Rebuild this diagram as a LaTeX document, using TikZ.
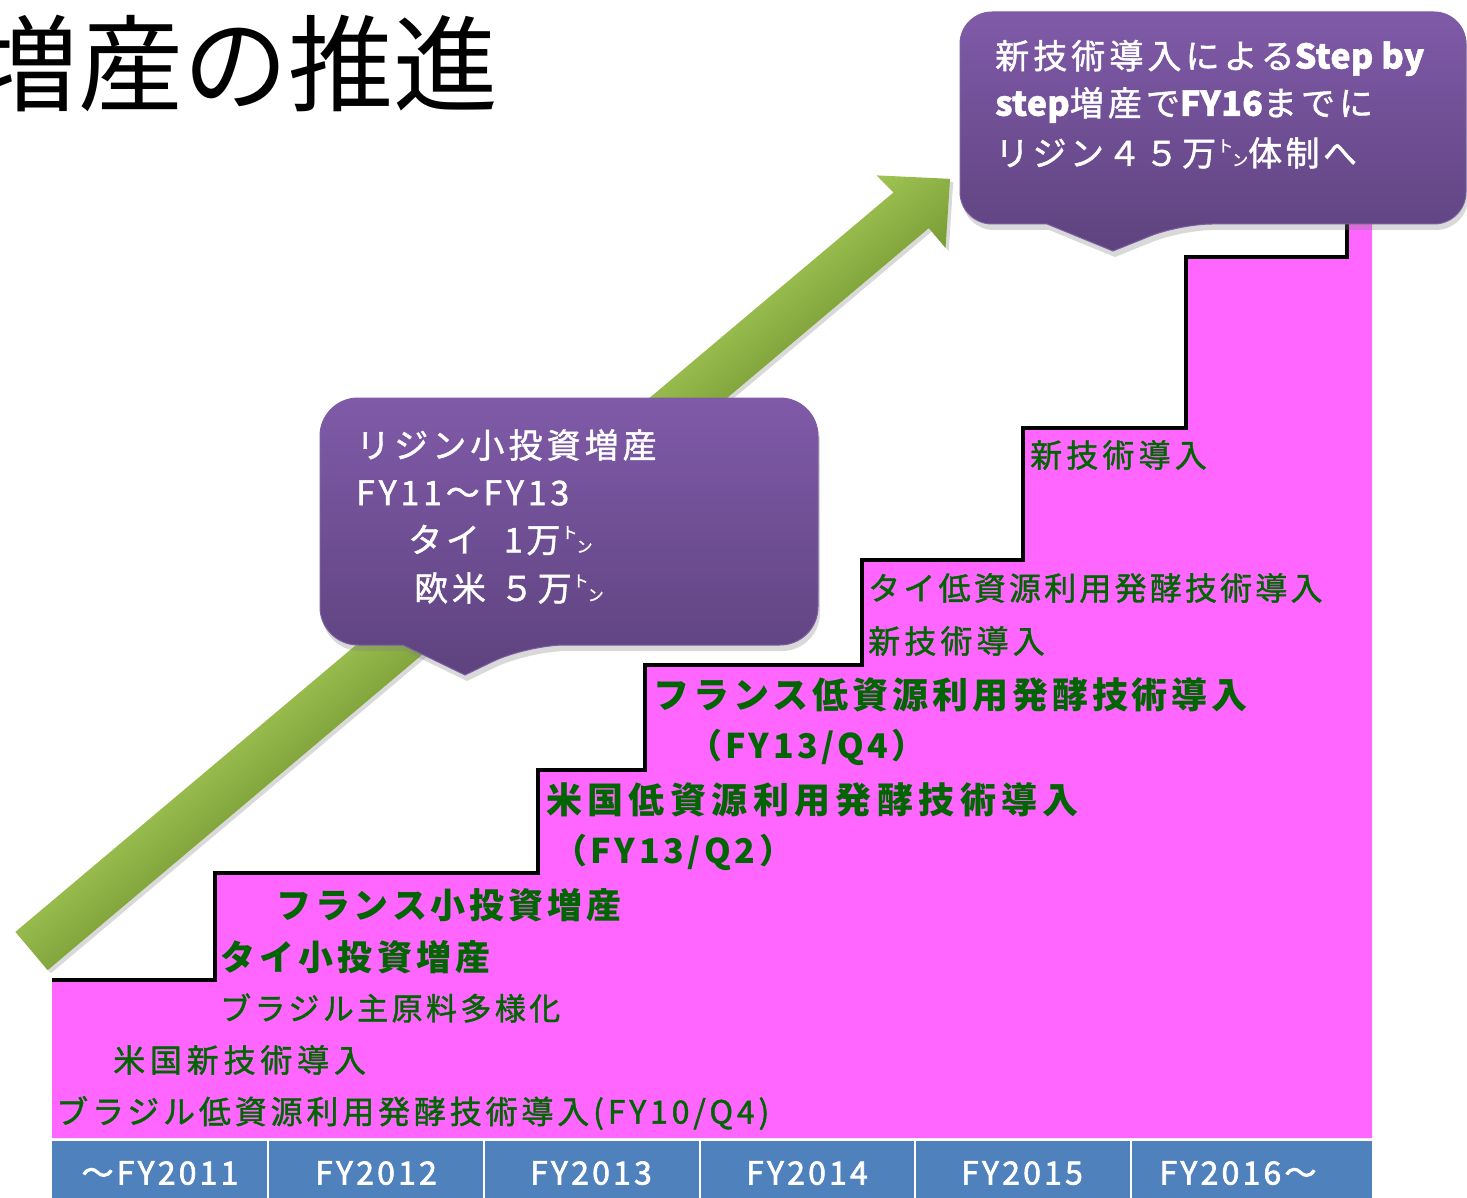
\documentclass[tikz,border=0pt]{standalone}
\usepackage{fontspec}
\setmainfont{Noto Sans CJK JP}
\usetikzlibrary{shadows}
\definecolor{pinkfill}{RGB}{255,102,255}
\definecolor{gtext}{RGB}{0,100,0}
\definecolor{axisblue}{RGB}{79,129,189}
\definecolor{ctop}{RGB}{128,90,168}
\definecolor{cbot}{RGB}{94,67,127}
\definecolor{cedge}{RGB}{122,96,162}
\definecolor{arlight}{RGB}{160,196,84}
\definecolor{ardark}{RGB}{120,156,52}
\newcommand\setfs[2]{\fontsize{#1}{#1}\selectfont\addfontfeature{LetterSpace=#2}}
\newcommand\setfr[2]{\fontsize{#1}{#1}\selectfont\addfontfeature{LetterSpace=#2,FakeBold=1.3}}
\newcommand\setfx[2]{\fontsize{#1}{#1}\selectfont\addfontfeature{LetterSpace=#2,FakeBold=2}}
\newcommand\latb[1]{{\bfseries\addfontfeature{LetterSpace=1}#1}}
\newcommand\tonmk{\kern1pt\raisebox{14pt}{\fontsize{16}{16}\selectfont ト}\kern-1pt\raisebox{0pt}{\fontsize{16}{16}\selectfont ン}}
\begin{document}
\begin{tikzpicture}[x=1pt,y=-1pt,
  gtxt/.style={anchor=west,inner sep=0pt,text=gtext},
  wtxt/.style={anchor=west,inner sep=0pt,text=white},
  axlbl/.style={inner sep=0pt,text=white},
  callout/.style={top color=ctop,bottom color=cbot,draw=cedge,line width=1pt,
    drop shadow={opacity=0.3,shadow xshift=2pt,shadow yshift=-6pt}},
  stairline/.style={line width=4pt,draw=black,line join=miter}
  ]
\useasboundingbox (0,0) rectangle (1467,1198);
\clip (0,0) rectangle (1467,1198);

% title
\node[anchor=west,inner sep=0pt,font=\fontsize{105}{105}\selectfont] (title) at (-27,63) {増産の推進};

% staircase
\fill[pinkfill] (52,1138) -- (52,980) -- (215,980) -- (215,873) -- (538,873) -- (538,770)
  -- (645,770) -- (645,665) -- (862,665) -- (862,560) -- (1023,560) -- (1023,428)
  -- (1186,428) -- (1186,257) -- (1347,257) -- (1347,215) -- (1372,215) -- (1372,1138) -- cycle;
\draw[stairline] (52,980) -- (215,980) -- (215,873) -- (538,873) -- (538,770)
  -- (645,770) -- (645,665) -- (862,665) -- (862,560) -- (1023,560) -- (1023,428)
  -- (1186,428) -- (1186,257) -- (1347,257) -- (1347,215);

% axis
\fill[axisblue] (52,1141) rectangle (1372,1198);
\foreach \xx in {268,484,700,915,1131} \draw[white,line width=2.5pt] (\xx,1141) -- (\xx,1198);
\node[axlbl,font=\setfx{32}{10}] (x1) at (160,1173) {～FY2011};
\node[axlbl,font=\setfx{32}{10}] (x2) at (376,1173) {FY2012};
\node[axlbl,font=\setfx{32}{10}] (x3) at (591,1173) {FY2013};
\node[axlbl,font=\setfx{32}{10}] (x4) at (807,1173) {FY2014};
\node[axlbl,font=\setfx{32}{10}] (x5) at (1022,1173) {FY2015};
\node[axlbl,font=\setfx{32}{10}] (x6) at (1238,1173) {FY2016～};

% green arrow
\begin{scope}[transform canvas={shift={(31.5,951)},rotate=40.1}]
\shade[top color=arlight,bottom color=ardark,
  drop shadow={opacity=0.3,shadow xshift=0.4pt,shadow yshift=-4.5pt}]
  (0,-25) -- (1148,-25) -- (1146,-49) -- (1200,1) -- (1152,51) -- (1152,25) -- (0,25) -- cycle;
\end{scope}

% callouts
\path[callout] [rounded corners=38pt] (320,521) -- (320,398) -- (818,398) -- (818,645) -- (527,645)
  [sharp corners] -- (465,675) -- (403,645) [rounded corners=38pt] -- (320,645) -- cycle;
\path[callout] [rounded corners=32pt] (960,120) -- (960,12) -- (1466,12) -- (1466,224) -- (1180,224)
  [sharp corners] -- (1113,251) -- (1047,224) [rounded corners=32pt] -- (960,224) -- cycle;

% callout texts
\node[wtxt,font=\setfr{34}{12}] (c1a) at (356,445) {リジン小投資増産};
\node[wtxt,font=\setfr{34}{11}] (c1b) at (356,493) {FY11～FY13};
\node[wtxt,font=\setfr{34}{11}] (c1c) at (408,540) {タイ\hspace{24pt}1万\tonmk};
\node[wtxt,font=\setfr{34}{11}] (c1d) at (414,588) {欧米\hspace{14pt}５万\tonmk};

\node[wtxt,font=\setfr{34}{12}] (c2a) at (995,58) {新技術導入による\latb{Step by}};
\node[wtxt,font=\setfr{34}{12}] (c2b) at (995,105) {\latb{step}増産で\latb{FY16}までに};
\node[wtxt,font=\setfr{34}{10}] (c2c) at (995,153) {リジン４５万\tonmk 体制へ};

% stair texts
\node[gtxt,font=\bfseries\setfs{35}{11}] (t1) at (276,905) {フランス小投資増産};
\node[gtxt,font=\bfseries\setfs{35}{12}] (t2) at (220,957) {タイ小投資増産};
\node[gtxt,font=\setfr{31}{11}] (t3) at (220,1008) {ブラジル主原料多様化};
\node[gtxt,font=\setfr{32}{15}] (t4) at (113,1060) {米国新技術導入};
\node[gtxt,font=\setfr{32}{12}] (t5) at (56,1113) {ブラジル低資源利用発酵技術導入(FY10/Q4)};
\node[gtxt,font=\bfseries\setfs{36}{15}] (t6) at (546,800) {米国低資源利用発酵技術導入};
\node[gtxt,font=\bfseries\setfs{34}{11}] (t7) at (553,852) {（FY13/Q2）};
\node[gtxt,font=\bfseries\setfs{36}{11}] (t8) at (653,695) {フランス低資源利用発酵技術導入};
\node[gtxt,font=\bfseries\setfs{34}{10}] (t9) at (688,747) {（FY13/Q4）};
\node[gtxt,font=\setfr{32}{10}] (t10) at (868,588) {タイ低資源利用発酵技術導入};
\node[gtxt,font=\setfr{32}{13}] (t11) at (868,641) {新技術導入};
\node[gtxt,font=\setfr{32}{13}] (t12) at (1030,455) {新技術導入};
\end{tikzpicture}
\end{document}
